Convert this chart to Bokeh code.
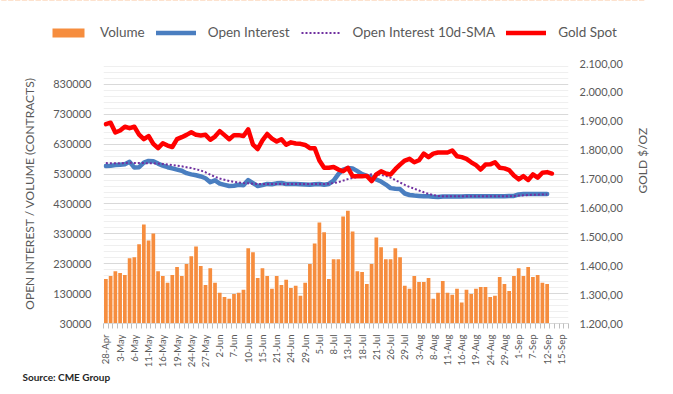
import math
from bokeh.plotting import figure
from bokeh.layouts import column
from bokeh.models import (Range1d, LinearAxis, FixedTicker, Legend, LegendItem, Label)
from bokeh.embed import file_html
from bokeh.resources import INLINE

# ---------------- data ----------------
dates = ["28-Apr", "29-Apr", "2-May", "3-May", "4-May", "5-May", "6-May", "9-May", "10-May",
         "11-May", "12-May", "13-May", "16-May", "17-May", "18-May", "19-May", "20-May",
         "23-May", "24-May", "25-May", "26-May", "27-May", "31-May", "1-Jun", "2-Jun",
         "3-Jun", "6-Jun", "7-Jun", "8-Jun", "9-Jun", "10-Jun", "13-Jun", "14-Jun",
         "15-Jun", "16-Jun", "17-Jun", "21-Jun", "22-Jun", "23-Jun", "24-Jun", "27-Jun",
         "28-Jun", "29-Jun", "30-Jun", "1-Jul", "5-Jul", "6-Jul", "7-Jul", "8-Jul",
         "11-Jul", "12-Jul", "13-Jul", "14-Jul", "15-Jul", "18-Jul", "19-Jul", "20-Jul",
         "21-Jul", "22-Jul", "25-Jul", "26-Jul", "27-Jul", "28-Jul", "29-Jul", "1-Aug",
         "2-Aug", "3-Aug", "4-Aug", "5-Aug", "8-Aug", "9-Aug", "10-Aug", "11-Aug",
         "12-Aug", "15-Aug", "16-Aug", "17-Aug", "18-Aug", "19-Aug", "22-Aug", "23-Aug",
         "24-Aug", "25-Aug", "26-Aug", "29-Aug", "30-Aug", "31-Aug", "1-Sep", "2-Sep",
         "6-Sep", "7-Sep", "8-Sep", "9-Sep", "12-Sep", "13-Sep", "14-Sep", "15-Sep",
         "16-Sep"]

volume = [179000, 189000, 205000, 199000, 192000, 248000, 252000, 295000, 361000, 308000,
          331000, 205000, 189000, 166000, 192000, 219000, 189000, 229000, 255000, 288000,
          222000, 159000, 215000, 166000, 133000, 119000, 113000, 129000, 133000, 143000,
          282000, 268000, 182000, 215000, 189000, 146000, 189000, 159000, 176000, 149000,
          156000, 123000, 166000, 229000, 298000, 368000, 335000, 179000, 245000, 245000,
          388000, 407000, 338000, 205000, 202000, 162000, 229000, 318000, 285000, 245000,
          245000, 282000, 252000, 156000, 146000, 189000, 169000, 169000, 182000, 113000,
          133000, 172000, 133000, 126000, 146000, 100000, 143000, 129000, 146000, 152000,
          152000, 119000, 123000, 186000, 162000, 139000, 189000, 215000, 189000, 219000,
          186000, 192000, 166000, 162000]

open_interest = [557000, 558000, 560000, 561000, 563000, 571000, 552000, 553000, 568000, 574000,
                 573000, 565000, 558000, 553000, 549000, 545000, 541000, 533000, 529000, 526000,
                 522000, 516000, 503000, 509000, 498000, 494000, 490000, 491000, 494000, 493000,
                 510000, 500000, 490000, 493000, 497000, 496000, 499000, 500000, 497000, 497000,
                 497000, 496000, 495000, 494000, 496000, 497000, 494000, 497000, 508000, 530000,
                 545000, 550000, 549000, 540000, 530000, 524000, 519000, 512000, 505000, 495000,
                 483000, 481000, 480000, 465000, 460000, 458000, 457000, 456000, 456000, 454000,
                 453000, 455000, 455000, 455000, 455000, 455000, 456000, 456000, 456000, 456000,
                 456000, 456000, 456000, 456000, 456000, 457000, 457000, 462000, 463000, 463000,
                 463000, 463000, 463000, 463000]

oi_sma10 = [567000, 566000, 566000, 566000, 567000, 568000, 567000, 567000, 567000, 566000,
            566000, 565000, 564000, 562000, 560000, 558000, 556000, 553000, 550000, 546000,
            542000, 536000, 528000, 521000, 515000, 511000, 507000, 504000, 502000, 500000,
            499000, 498000, 497000, 497000, 497000, 497000, 497000, 497000, 497000, 497000,
            497000, 497000, 497000, 497000, 497000, 497000, 497000, 498000, 500000, 503000,
            508000, 513000, 517000, 520000, 524000, 527000, 529000, 529000, 527000, 524000,
            518000, 510000, 502000, 494000, 487000, 481000, 475000, 469000, 464000, 460000,
            457000, 456000, 456000, 456000, 456000, 456000, 456000, 456000, 456000, 456000,
            456000, 456000, 456000, 456000, 456000, 456000, 457000, 458000, 459000, 460000,
            461000, 461000, 462000, 462000]

gold_spot = [1890, 1895, 1861, 1868, 1881, 1876, 1881, 1854, 1838, 1849,
             1822, 1807, 1824, 1816, 1811, 1838, 1845, 1853, 1862, 1853,
             1851, 1853, 1836, 1847, 1866, 1852, 1838, 1852, 1852, 1849,
             1872, 1819, 1804, 1834, 1856, 1840, 1830, 1838, 1819, 1827,
             1823, 1822, 1818, 1807, 1807, 1764, 1739, 1739, 1742, 1733,
             1727, 1739, 1710, 1710, 1710, 1711, 1693, 1716, 1727, 1719,
             1716, 1734, 1750, 1764, 1770, 1758, 1765, 1788, 1776, 1788,
             1792, 1792, 1792, 1799, 1779, 1776, 1770, 1758, 1748, 1733,
             1750, 1751, 1758, 1739, 1737, 1731, 1712, 1699, 1710, 1697,
             1716, 1705, 1722, 1724, 1719]

left_ticks = [30000, 130000, 230000, 330000, 430000, 530000, 630000, 730000, 830000]
right_ticks = [1200, 1300, 1400, 1500, 1600, 1700, 1800, 1900, 2000, 2100]
right_tick_labels = ["1.200,00", "1.300,00", "1.400,00", "1.500,00", "1.600,00",
                     "1.700,00", "1.800,00", "1.900,00", "2.000,00", "2.100,00"]
series_names = ["Volume", "Open Interest", "Open Interest 10d-SMA", "Gold Spot"]
source_note = "Source: CME Group"

# ---------------- styling ----------------
FONT = "Lato"
GREY = "#595959"
ORANGE = "#F68D3E"
BLUE = "#4A7EC0"
PURPLE = "#7030A0"
RED = "#FF0000"

n_cat = len(dates)
x_vol = list(range(len(volume)))
x_gold = list(range(len(gold_spot)))

W = 672
LEG_H, MAIN_H, SRC_H = 50, 320, 22
BL, BR, BT, BB = 103, 104, 13, 44


def no_frame_align(fig):
    if "frame_align" in fig.properties():
        fig.frame_align = False


# ---------------- main chart ----------------
p = figure(width=W, height=MAIN_H, output_backend="svg", toolbar_location=None,
           x_range=Range1d(-0.5, n_cat - 0.5), y_range=Range1d(30000, 900000),
           min_border_left=BL, min_border_right=BR, min_border_top=BT,
           min_border_bottom=BB)
p.extra_y_ranges = {"gold": Range1d(1200, 2100)}
p.outline_line_color = None
no_frame_align(p)

p.vbar(x=x_vol, top=volume, bottom=30000, width=0.78, fill_color=ORANGE,
       line_color=None)
p.line(x_vol, open_interest, line_color=BLUE, line_width=4.5,
       line_join="round", line_cap="round")
p.line(x_vol, oi_sma10, line_color=PURPLE, line_width=2, line_dash="2 2")
p.line(x_gold, gold_spot, line_color=RED, line_width=4.5, line_join="round",
       line_cap="round", y_range_name="gold")

# x axis
xa = p.xaxis[0]
xa.ticker = FixedTicker(ticks=list(range(0, n_cat, 3)),
                        minor_ticks=[i - 0.5 for i in range(n_cat + 1)])
xa.major_label_overrides = {i: dates[i] for i in range(0, n_cat, 3)}
xa.major_label_orientation = math.pi / 2
xa.major_tick_line_color = None
xa.major_tick_out = 0
xa.major_tick_in = 0
xa.minor_tick_line_color = "#BFBFBF"
xa.minor_tick_in = 0
xa.minor_tick_out = 5
xa.axis_line_color = "#D9D9D9"
xa.major_label_text_font = FONT
xa.major_label_text_font_size = "9.5px"
xa.major_label_text_color = GREY
xa.major_label_standoff = 6
p.xgrid.grid_line_color = None

# left axis
ya = p.yaxis[0]
minor = [v for v in range(50000, 900001, 20000) if v not in left_ticks]
ya.ticker = FixedTicker(ticks=left_ticks, minor_ticks=minor)
ya.major_label_overrides = {v: str(v) for v in left_ticks}
ya.axis_label = "OPEN INTEREST / VOLUME (CONTRACTS)"
ya.axis_label_text_font = FONT
ya.axis_label_text_font_size = "12px"
ya.axis_label_text_font_style = "normal"
ya.axis_label_text_color = GREY
ya.axis_label_standoff = 13
ya.major_label_text_font = FONT
ya.major_label_text_font_size = "11px"
ya.major_label_text_color = GREY
ya.major_label_standoff = 12
ya.axis_line_color = None
ya.major_tick_line_color = None
ya.major_tick_out = 0
ya.major_tick_in = 0
ya.minor_tick_line_color = None
ya.minor_tick_out = 0
ya.minor_tick_in = 0
p.ygrid.grid_line_color = "#D9D9D9"
p.ygrid.minor_grid_line_color = "#EFEFEF"

# right axis
ra = LinearAxis(y_range_name="gold", axis_label="GOLD $/OZ")
ra.ticker = FixedTicker(ticks=right_ticks)
ra.major_label_overrides = dict(zip(right_ticks, right_tick_labels))
ra.axis_label_text_font = FONT
ra.axis_label_text_font_size = "12px"
ra.axis_label_text_font_style = "normal"
ra.axis_label_text_color = GREY
ra.axis_label_standoff = 17
ra.major_label_text_font = FONT
ra.major_label_text_font_size = "11px"
ra.major_label_text_color = GREY
ra.major_label_standoff = 11
ra.axis_line_color = None
ra.major_tick_line_color = None
ra.major_tick_out = 0
ra.major_tick_in = 0
ra.minor_tick_line_color = None
ra.minor_tick_out = 0
ra.minor_tick_in = 0
if "axis_label_orientation" in ra.properties():
    ra.axis_label_orientation = math.pi / 2
    ra.axis_label_text_align = "center"
    ra.axis_label_text_baseline = "middle"
p.add_layout(ra, "right")

# ---------------- legend strip ----------------
lf = figure(width=W, height=LEG_H, output_backend="svg", toolbar_location=None,
            x_range=Range1d(-0.5, n_cat - 0.5), y_range=Range1d(-3e6, -2e6),
            x_axis_type=None, y_axis_type=None, min_border=0)
lf.min_border_left = lf.min_border_right = lf.min_border_top = lf.min_border_bottom = 0
lf.outline_line_color = None
lf.grid.visible = False
no_frame_align(lf)
# same series, out of this strip's view: only their legend swatches are shown
d_bar = lf.vbar(x=x_vol, top=volume, bottom=30000, width=0.78, fill_color=ORANGE,
                line_color=None)
d_oi = lf.line(x_vol, open_interest, line_color=BLUE, line_width=4.5, line_cap="round")
d_sma = lf.line(x_vol, oi_sma10, line_color=PURPLE, line_width=2, line_dash="2 2")
d_gold = lf.line(x_gold, gold_spot, line_color=RED, line_width=4.5, line_cap="round")
legend = Legend(items=[LegendItem(label=series_names[0], renderers=[d_bar]),
                       LegendItem(label=series_names[1], renderers=[d_oi]),
                       LegendItem(label=series_names[2], renderers=[d_sma]),
                       LegendItem(label=series_names[3], renderers=[d_gold])],
                orientation="horizontal", location=(48, 10),
                label_text_font=FONT, label_text_font_size="13.5px",
                label_text_color=GREY, glyph_width=40, glyph_height=11,
                label_standoff=12, spacing=11, padding=0, margin=0,
                label_height=14, border_line_color=None,
                background_fill_alpha=0)
lf.add_layout(legend)

# ---------------- source strip ----------------
sf = figure(width=W, height=SRC_H, output_backend="svg", toolbar_location=None,
            x_range=Range1d(0, 1), y_range=Range1d(0, 1),
            x_axis_type=None, y_axis_type=None, min_border=0)
sf.min_border_left = sf.min_border_right = sf.min_border_top = sf.min_border_bottom = 0
sf.outline_line_color = None
sf.grid.visible = False
no_frame_align(sf)
sf.add_layout(Label(x=22, y=16, x_units="screen", y_units="screen", text=source_note,
                    text_font=FONT, text_font_size="10px", text_font_style="bold",
                    text_color="#262626", text_baseline="middle"))

layout = column(lf, p, sf, spacing=0)
open("out.html", "w").write(file_html(layout, INLINE))
